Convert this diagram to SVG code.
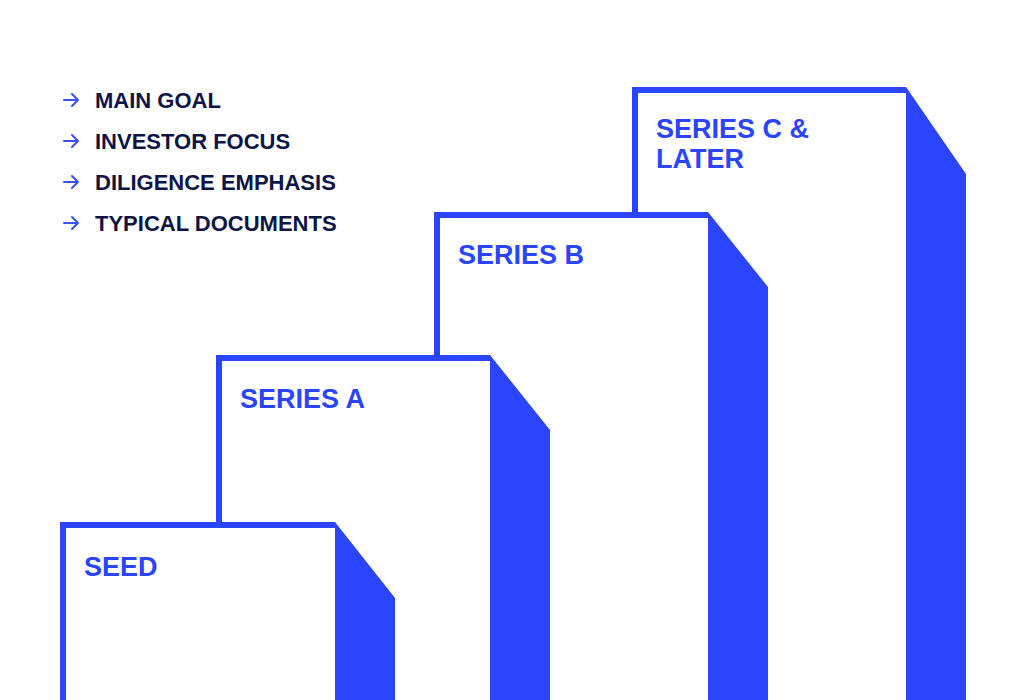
<svg xmlns="http://www.w3.org/2000/svg" width="1024" height="700" viewBox="0 0 1024 700">
  <style>
    .face { fill: #ffffff; }
    .frame { fill: none; stroke: #2B45FF; stroke-width: 6; stroke-linecap: butt; stroke-linejoin: miter; }
    .side { fill: #2B45FF; }
    .label { font-family: "Liberation Sans", Arial, sans-serif; font-weight: 700; font-size: 27px; fill: #2B45FF; }
    .legend { font-family: "Liberation Sans", Arial, sans-serif; font-weight: 700; font-size: 22px; fill: #0D1446; }
    .arrow { fill: none; stroke: #3A50F0; stroke-width: 2; stroke-linecap: round; stroke-linejoin: round; }
  </style>
  <rect width="1024" height="700" fill="#ffffff"/>

  <g id="legend">
    <g id="legend-main-goal">
      <path class="arrow" d="M64 100 H78 M72 94 L78 100 L72 106"/>
      <text class="legend" x="95" y="108">MAIN GOAL</text>
    </g>
    <g id="legend-investor-focus">
      <path class="arrow" d="M64 141 H78 M72 135 L78 141 L72 147"/>
      <text class="legend" x="95" y="149">INVESTOR FOCUS</text>
    </g>
    <g id="legend-diligence">
      <path class="arrow" d="M64 182 H78 M72 176 L78 182 L72 188"/>
      <text class="legend" x="95" y="190">DILIGENCE EMPHASIS</text>
    </g>
    <g id="legend-documents">
      <path class="arrow" d="M64 223 H78 M72 217 L78 223 L72 229"/>
      <text class="legend" x="95" y="231">TYPICAL DOCUMENTS</text>
    </g>
  </g>

  <g id="connectors"></g>

  <g id="series-c">
    <rect class="face" x="632" y="87" width="274" height="623"/>
    <path class="frame" d="M635 710 V90 H906"/>
    <polygon class="side" points="906,87 966,174 966,710 906,710"/>
    <text class="label" x="656" y="138">SERIES C &amp;</text>
    <text class="label" x="656" y="168">LATER</text>
  </g>

  <g id="series-b">
    <rect class="face" x="434" y="212" width="274" height="498"/>
    <path class="frame" d="M437 710 V215 H708"/>
    <polygon class="side" points="708,212 768,287 768,710 708,710"/>
    <text class="label" x="458" y="264">SERIES B</text>
  </g>

  <g id="series-a">
    <rect class="face" x="216" y="355" width="274" height="355"/>
    <path class="frame" d="M219 710 V358 H490"/>
    <polygon class="side" points="490,355 550,430 550,710 490,710"/>
    <text class="label" x="240" y="408">SERIES A</text>
  </g>

  <g id="seed">
    <rect class="face" x="60" y="522" width="275" height="188"/>
    <path class="frame" d="M63 710 V525 H335"/>
    <polygon class="side" points="335,522 395,598 395,710 335,710"/>
    <text class="label" x="84" y="576">SEED</text>
  </g>
</svg>
